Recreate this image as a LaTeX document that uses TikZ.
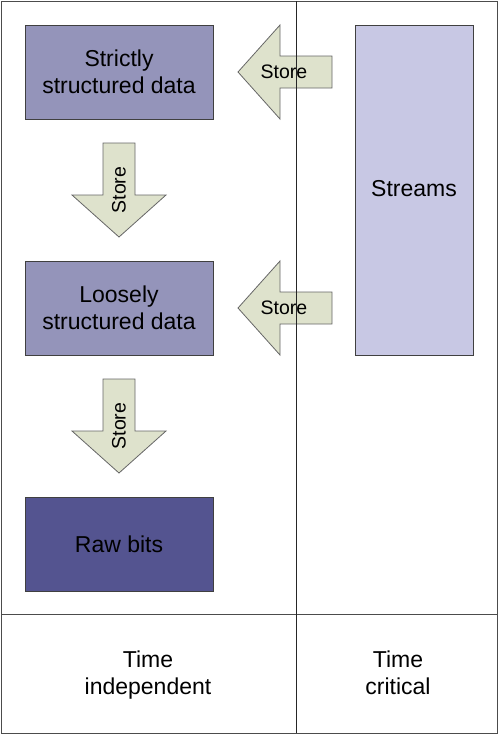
\documentclass[tikz,border=0pt]{standalone}
\usepackage{fontspec}
\setmainfont{Liberation Sans}
\definecolor{datafill}{RGB}{148,148,186}
\definecolor{rawfill}{RGB}{84,84,144}
\definecolor{streamfill}{RGB}{200,200,228}
\definecolor{storefill}{RGB}{222,226,204}
\tikzstyle{every node}=[font=\fontsize{23}{27}\selectfont, align=center]
\tikzstyle{store}=[draw=black!60, fill=storefill, line width=0.8pt, line join=miter]
\tikzstyle{storelabel}=[font=\fontsize{19.5}{22}\selectfont, inner sep=0pt]
\tikzstyle{block}=[draw=black!75, line width=0.8pt]
\tikzstyle{frame}=[draw=black!70, line width=1pt]

\begin{document}
\begin{tikzpicture}[x=1pt, y=-1pt]
\useasboundingbox (0,0) rectangle (498,734);
% Boxes
    \filldraw[block, fill=datafill] (25,25) rectangle (213,119);
    \filldraw[block, fill=datafill] (25,261) rectangle (213,355);
    \filldraw[block, fill=rawfill] (25,497) rectangle (213,591);
    \filldraw[block, fill=streamfill] (355,25) rectangle (473,355);
    \node (strict) at (119,72) {Strictly\\structured data};
    \node (loose) at (119,308) {Loosely\\structured data};
    \node (raw) at (119,544) {Raw bits};
    \node (streams) at (414,189) {Streams};
% Store arrows
    \filldraw[store] (332,56) -- (280,56) -- (280,25) -- (238,72) -- (280,119) -- (280,88) -- (332,88) -- cycle;
    \filldraw[store] (332,292) -- (280,292) -- (280,261) -- (238,308) -- (280,355) -- (280,324) -- (332,324) -- cycle;
    \filldraw[store] (103,143) -- (135,143) -- (135,195) -- (166,195) -- (119,237) -- (72,195) -- (103,195) -- cycle;
    \filldraw[store] (103,379) -- (135,379) -- (135,431) -- (166,431) -- (119,473) -- (72,431) -- (103,431) -- cycle;
    \node[storelabel] (store1) at (284,72) {Store};
    \node[storelabel] (store2) at (284,308) {Store};
    \node[storelabel, rotate=90] (store3) at (119,190) {Store};
    \node[storelabel, rotate=90] (store4) at (119,426) {Store};
% Frame
    \draw[frame] (1,1) rectangle (497,733);
    \draw[frame] (1,614) -- (497,614);
    \draw[frame, draw=black!85] (296,1) -- (296,733);
% Columns
    \node (indep) at (148,675) {Time\\independent};
    \node (crit) at (398,673) {Time\\critical};
\end{tikzpicture}
\end{document}
